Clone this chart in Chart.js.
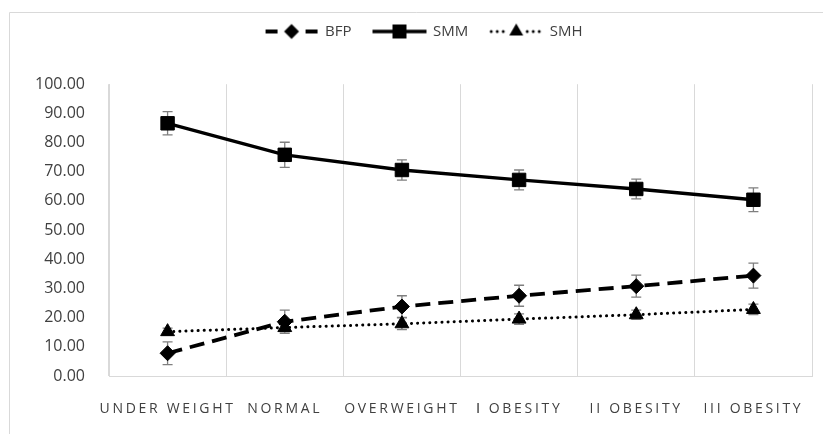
<!DOCTYPE html>
<html>
<head>
<meta charset="utf-8">
<script src="https://cdn.jsdelivr.net/npm/chart.js@4.4.1/dist/chart.umd.min.js"></script>
<style>
  html, body { margin: 0; padding: 0; background: #fff; }
  #wrap { width: 823px; height: 434px; }
</style>
</head>
<body>
<div id="wrap"><canvas id="chart"></canvas></div>
<script>
const categories = ['UNDER WEIGHT', 'NORMAL', 'OVERWEIGHT', 'Ⅰ OBESITY', 'II OBESITY', 'III OBESITY'];
const bfpValues = [7.8, 18.6, 23.8, 27.5, 30.8, 34.4];
const bfpErrors = [3.9, 4.0, 3.7, 3.6, 3.8, 4.3];
const smmValues = [86.6, 75.8, 70.6, 67.2, 64.1, 60.4];
const smmErrors = [4.0, 4.3, 3.5, 3.4, 3.4, 4.1];
const smhValues = [15.2, 16.6, 17.9, 19.5, 21.0, 22.8];
const smhErrors = [1.2, 1.5, 2.0, 1.8, 1.6, 1.8];
const yTicks = [0, 10, 20, 30, 40, 50, 60, 70, 80, 90, 100];

const GRID = '#d9d9d9';
const TEXT = '#404040';

// little legend pictures: line piece with the marker in the middle
function legendSymbol(kind) {
    const c = document.createElement('canvas');
    c.width = 56; c.height = 18;
    const g = c.getContext('2d');
    const cy = 9, cx = 28;
    g.strokeStyle = '#000';
    g.fillStyle = '#000';
    if (kind === 'BFP') {
        g.lineWidth = 3.8;
        g.beginPath();
        g.moveTo(2, cy); g.lineTo(14, cy);
        g.moveTo(42, cy); g.lineTo(54, cy);
        g.stroke();
        g.beginPath();
        g.moveTo(cx - 7.5, cy); g.lineTo(cx, cy - 7.5); g.lineTo(cx + 7.5, cy); g.lineTo(cx, cy + 7.5);
        g.closePath(); g.fill();
    } else if (kind === 'SMM') {
        g.lineWidth = 3.4;
        g.beginPath(); g.moveTo(1, cy); g.lineTo(55, cy); g.stroke();
        g.fillRect(cx - 7, cy - 7, 14, 14);
    } else {
        for (let x = 3; x < 54; x += 6) {
            if (Math.abs(x - cx) < 8) continue;
            g.beginPath(); g.arc(x, cy, 1.5, 0, Math.PI * 2); g.fill();
        }
        g.beginPath();
        g.moveTo(cx, cy - 8); g.lineTo(cx + 7, cy + 4); g.lineTo(cx - 7, cy + 4);
        g.closePath(); g.fill();
    }
    return c;
}

const symbols = { BFP: legendSymbol('BFP'), SMM: legendSymbol('SMM'), SMH: legendSymbol('SMH') };

const errorBars = {
    id: 'errorBars',
    beforeDatasetsDraw(chart) {
        const ctx = chart.ctx;
        const y = chart.scales.y;
        ctx.save();
        ctx.strokeStyle = '#7f7f7f';
        ctx.lineWidth = 1.3;
        chart.data.datasets.forEach((ds, i) => {
            const meta = chart.getDatasetMeta(i);
            meta.data.forEach((pt, j) => {
                const v = ds.data[j], e = ds.errors[j];
                const top = y.getPixelForValue(v + e);
                const bot = y.getPixelForValue(v - e);
                ctx.beginPath();
                ctx.moveTo(pt.x, top); ctx.lineTo(pt.x, bot);
                ctx.moveTo(pt.x - 5, top); ctx.lineTo(pt.x + 5, top);
                ctx.moveTo(pt.x - 5, bot); ctx.lineTo(pt.x + 5, bot);
                ctx.stroke();
            });
        });
        ctx.restore();
    }
};

const frame = {
    id: 'frame',
    beforeDraw(chart) {
        const ctx = chart.ctx;
        ctx.save();
        ctx.strokeStyle = GRID;
        ctx.lineWidth = 1;
        ctx.beginPath();
        ctx.moveTo(9.5, 434); ctx.lineTo(9.5, 12.5); ctx.lineTo(823, 12.5);
        ctx.stroke();
        ctx.restore();
        // spaced capitals on the category axis
        const xs = chart.scales.x;
        if (!xs._spaced) {
            const orig = xs.drawLabels.bind(xs);
            xs.drawLabels = (area) => {
                chart.ctx.save();
                chart.ctx.letterSpacing = '2.7px';
                orig(area);
                chart.ctx.restore();
            };
            xs._spaced = true;
        }
    }
};

new Chart(document.getElementById('chart'), {
    type: 'line',
    data: {
        labels: categories,
        datasets: [
            {
                label: 'BFP', data: bfpValues, errors: bfpErrors,
                borderColor: '#000', backgroundColor: '#000', borderWidth: 3.8,
                borderDash: [15, 8], tension: 0,
                pointStyle: 'rectRot', pointRadius: 7.5, pointBorderWidth: 1,
                pointBackgroundColor: '#000', pointBorderColor: '#000'
            },
            {
                label: 'SMM', data: smmValues, errors: smmErrors,
                borderColor: '#000', backgroundColor: '#000', borderWidth: 3.4,
                tension: 0,
                pointStyle: 'rect', pointRadius: 9.5, pointBorderWidth: 1,
                pointBackgroundColor: '#000', pointBorderColor: '#000'
            },
            {
                label: 'SMH', data: smhValues, errors: smhErrors,
                borderColor: '#000', backgroundColor: '#000', borderWidth: 3,
                borderDash: [0.1, 6], borderCapStyle: 'round', tension: 0,
                pointStyle: 'triangle', pointRadius: 8, pointBorderWidth: 1,
                pointBackgroundColor: '#000', pointBorderColor: '#000'
            }
        ]
    },
    options: {
        responsive: true,
        maintainAspectRatio: false,
        animation: false,
        layout: { padding: { left: 36, right: 11, top: 2, bottom: 0 } },
        plugins: {
            legend: {
                position: 'top',
                labels: {
                    usePointStyle: true,
                    pointStyleWidth: 52,
                    padding: 22,
                    color: TEXT,
                    font: { family: 'Open Sans', size: 15 },
                    generateLabels(chart) {
                        return chart.data.datasets.map((ds, i) => ({
                            text: ds.label,
                            pointStyle: symbols[ds.label],
                            fontColor: TEXT,
                            lineWidth: 0,
                            hidden: false,
                            datasetIndex: i
                        }));
                    }
                }
            },
            title: {
                display: true, text: '', weight: 500,
                font: { size: 1 }, padding: { top: 17, bottom: 17 }
            },
            tooltip: { enabled: false }
        },
        scales: {
            x: {
                offset: true,
                afterFit(scale) { scale.height = 58; },
                grid: { offset: true, color: GRID, drawTicks: false },
                border: { color: GRID },
                ticks: {
                    color: TEXT, padding: 25, maxRotation: 0, autoSkip: false,
                    font: { family: 'Open Sans', size: 14 }
                }
            },
            y: {
                min: 0, max: 100,
                afterFit(scale) { scale.width = 73; },
                afterBuildTicks(scale) { scale.ticks = yTicks.map(v => ({ value: v })); },
                grid: { display: false, drawTicks: false },
                border: { color: GRID },
                ticks: {
                    color: TEXT, padding: 24,
                    font: { family: 'Open Sans', size: 16 },
                    callback: v => Number(v).toFixed(2)
                }
            }
        }
    },
    plugins: [errorBars, frame]
});
</script>
</body>
</html>
